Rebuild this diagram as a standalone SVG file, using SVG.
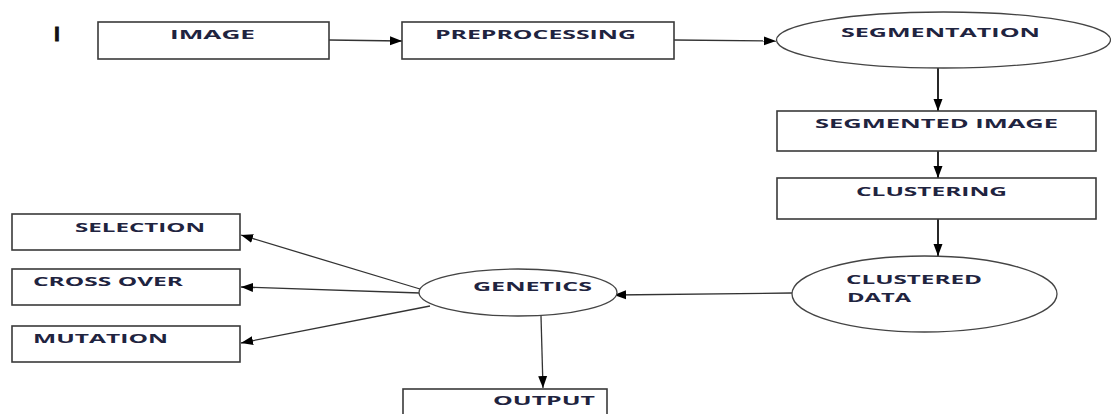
<svg xmlns="http://www.w3.org/2000/svg" width="1111" height="414" viewBox="0 0 1111 414">
<style>
.box{fill:#fff;stroke:#3a3a3a;stroke-width:1.6}
.ell{fill:#fff;stroke:#444;stroke-width:1.3}
.lbl{font-family:"Open Sans","Liberation Sans",sans-serif;font-weight:700;font-size:12.5px;fill:#1f2440}
.con{stroke:#333;stroke-width:1.3;fill:none;marker-end:url(#ah)}
.conv{stroke:#111;stroke-width:1.8;fill:none;marker-end:url(#ah)}
</style>
<defs>
<marker id="ah" markerUnits="userSpaceOnUse" markerWidth="14" markerHeight="10" refX="12" refY="5" orient="auto">
<path d="M0,0.5 L12,5 L0,9.5 Z" fill="#000"/>
</marker>
</defs>
<rect width="1111" height="414" fill="#fff"/>
<text x="54" y="41" style="font-family:'Liberation Sans',sans-serif;font-weight:bold;font-size:21px;fill:#111;stroke:#111;stroke-width:0.8">I</text>
<g id="connectors">
<line class="con" x1="329" y1="40" x2="402" y2="41"/>
<line class="con" x1="674" y1="40" x2="776" y2="41"/>
<line class="conv" x1="938" y1="67" x2="938" y2="111"/>
<line class="conv" x1="938" y1="151" x2="938" y2="178"/>
<line class="conv" x1="938" y1="219" x2="938" y2="256"/>
<line class="con" x1="792" y1="293" x2="614" y2="295"/>
<line class="con" x1="420" y1="289" x2="241" y2="235"/>
<line class="con" x1="420" y1="293" x2="241" y2="287"/>
<line class="con" x1="430" y1="306" x2="241" y2="343"/>
<line class="con" x1="541" y1="316" x2="543" y2="388"/>
</g>
<g id="image"><rect class="box" x="98" y="22" width="231" height="37"/><text class="lbl" x="170" y="39" textLength="85" lengthAdjust="spacingAndGlyphs">IMAGE</text></g>
<g id="preprocessing"><rect class="box" x="402" y="22" width="272" height="37"/><text class="lbl" x="435" y="39" textLength="201" lengthAdjust="spacingAndGlyphs">PREPROCESSING</text></g>
<g id="segmentation"><ellipse class="ell" cx="943.5" cy="40" rx="167" ry="28"/><text class="lbl" x="841" y="37" textLength="199" lengthAdjust="spacingAndGlyphs">SEGMENTATION</text></g>
<g id="segmented-image"><rect class="box" x="777" y="111" width="319" height="40"/><text class="lbl" x="815" y="128" textLength="243" lengthAdjust="spacingAndGlyphs">SEGMENTED IMAGE</text></g>
<g id="clustering"><rect class="box" x="777" y="178" width="319" height="41"/><text class="lbl" x="856" y="196" textLength="151" lengthAdjust="spacingAndGlyphs">CLUSTERING</text></g>
<g id="clustered-data"><ellipse class="ell" cx="924.5" cy="294" rx="132.5" ry="38"/><text class="lbl" x="846" y="284" textLength="136" lengthAdjust="spacingAndGlyphs">CLUSTERED</text><text class="lbl" x="847" y="302" textLength="64" lengthAdjust="spacingAndGlyphs">DATA</text></g>
<g id="genetics"><ellipse class="ell" cx="518" cy="292.5" rx="99" ry="23.5"/><text class="lbl" x="473" y="291" textLength="119" lengthAdjust="spacingAndGlyphs">GENETICS</text></g>
<g id="selection"><rect class="box" x="12" y="214" width="228" height="36"/><text class="lbl" x="75" y="232" textLength="130" lengthAdjust="spacingAndGlyphs">SELECTION</text></g>
<g id="cross-over"><rect class="box" x="12" y="269" width="228" height="36"/><text class="lbl" x="33" y="286" textLength="150" lengthAdjust="spacingAndGlyphs">CROSS OVER</text></g>
<g id="mutation"><rect class="box" x="12" y="326" width="228" height="36"/><text class="lbl" x="33" y="343" textLength="135" lengthAdjust="spacingAndGlyphs">MUTATION</text></g>
<g id="output"><rect class="box" x="403" y="389" width="204" height="40"/><text class="lbl" x="493" y="405" textLength="102" lengthAdjust="spacingAndGlyphs">OUTPUT</text></g>
</svg>
